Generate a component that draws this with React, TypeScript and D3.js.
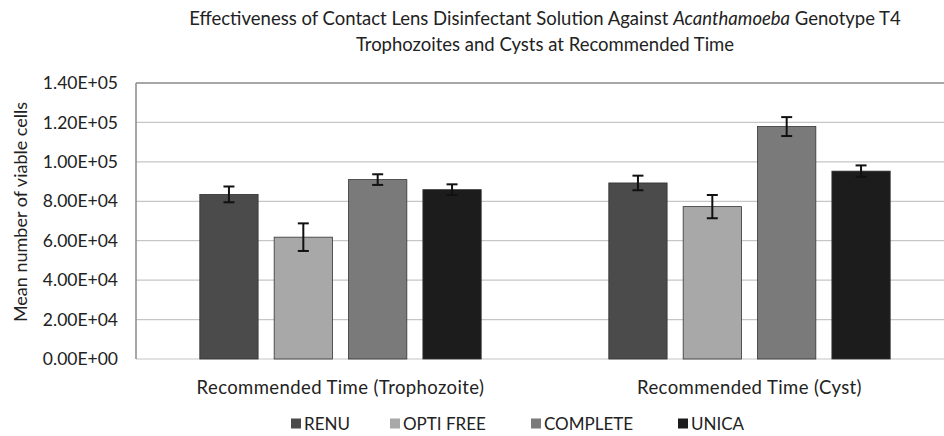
import { scaleBand, scaleLinear } from "d3";

const categories = ["Recommended Time (Trophozoite)", "Recommended Time (Cyst)"];
const series = ["RENU", "OPTI FREE", "COMPLETE", "UNICA"];
const colors = ["#4b4b4b", "#a8a8a8", "#7a7a7a", "#1c1c1c"];
// means per series, [trophozoite, cyst]
const means = [
  [83500, 89300],
  [61800, 77300],
  [91000, 117900],
  [85900, 95300],
];
const errors = [
  [4000, 3700],
  [7000, 5900],
  [2700, 4800],
  [2700, 2900],
];
const yTicks = [0, 20000, 40000, 60000, 80000, 100000, 120000, 140000];

const font = "Lato, 'Open Sans', sans-serif";
const plot = { left: 136, right: 954, top: 83, bottom: 359 };

const fmt = (v: number) => {
  if (v === 0) return "0.00E+00";
  const e = Math.floor(Math.log10(v));
  const m = v / Math.pow(10, e);
  return `${m.toFixed(2)}E+${String(e).padStart(2, "0")}`;
};

const App = () => {
  const y = scaleLinear().domain([0, 140000]).range([plot.bottom, plot.top]);
  const x0 = scaleBand().domain(categories).range([plot.left, plot.right]);
  const bw = x0.bandwidth();
  const x1 = scaleBand()
    .domain(series)
    .range([bw * 0.156, bw * 0.844])
    .paddingInner(0.216);

  const legendX = [291, 390, 531, 678];

  return (
    <svg
      width={944}
      height={436}
      style={{ position: "absolute", left: 0, top: 0, background: "white" }}
      fontFamily={font}
    >
      <text x={545} y={25} textAnchor="middle" fontSize={18.5} fill="#222">
        Effectiveness of Contact Lens Disinfectant Solution Against{" "}
        <tspan fontStyle="italic">Acanthamoeba</tspan> Genotype T4
      </text>
      <text x={545} y={51} textAnchor="middle" fontSize={18.5} fill="#222">
        Trophozoites and Cysts at Recommended Time
      </text>

      {yTicks.map((t) => (
        <g key={t}>
          <line
            x1={plot.left}
            x2={944}
            y1={y(t)}
            y2={y(t)}
            stroke={t === 140000 ? "#8a8a8a" : "#c6c6c6"}
            strokeWidth={t === 140000 ? 1.5 : 1.2}
          />
          <text
            x={118}
            y={y(t)}
            dy="0.35em"
            textAnchor="end"
            fontSize={17.5}
            fill="#222"
          >
            {fmt(t)}
          </text>
        </g>
      ))}
      <line x1={plot.left} x2={plot.left} y1={plot.top} y2={plot.bottom} stroke="#8a8a8a" strokeWidth={1.5} />

      <text
        transform={`translate(21, ${(plot.top + plot.bottom) / 2 - 9}) rotate(-90)`}
        textAnchor="middle"
        dy="0.35em"
        fontSize={18}
        fill="#222"
      >
        Mean number of viable cells
      </text>

      {categories.map((c, ci) => (
        <g key={c} transform={`translate(${x0(c)},0)`}>
          {series.map((s, si) => {
            const v = means[si][ci];
            const e = errors[si][ci];
            const cx = (x1(s) as number) + x1.bandwidth() / 2;
            return (
              <g key={s}>
                <rect
                  x={x1(s)}
                  y={y(v)}
                  width={x1.bandwidth()}
                  height={plot.bottom - y(v)}
                  fill={colors[si]}
                  stroke="#333"
                  strokeWidth={0.8}
                />
                <g stroke="#111" strokeWidth={2}>
                  <line x1={cx} x2={cx} y1={y(v + e)} y2={y(v - e)} />
                  <line x1={cx - 5.5} x2={cx + 5.5} y1={y(v + e)} y2={y(v + e)} />
                  <line x1={cx - 5.5} x2={cx + 5.5} y1={y(v - e)} y2={y(v - e)} />
                </g>
              </g>
            );
          })}
          <text
            x={bw / 2}
            y={394}
            textAnchor="middle"
            fontSize={18.5}
            letterSpacing={0.4}
            fill="#222"
          >
            {c}
          </text>
        </g>
      ))}

      {series.map((s, si) => (
        <g key={s} transform={`translate(${legendX[si]}, 430)`}>
          <rect x={0} y={-11.5} width={10} height={10} fill={colors[si]} />
          <text x={13} y={0} fontSize={17} fill="#222">
            {s}
          </text>
        </g>
      ))}
    </svg>
  );
};

export default App;
